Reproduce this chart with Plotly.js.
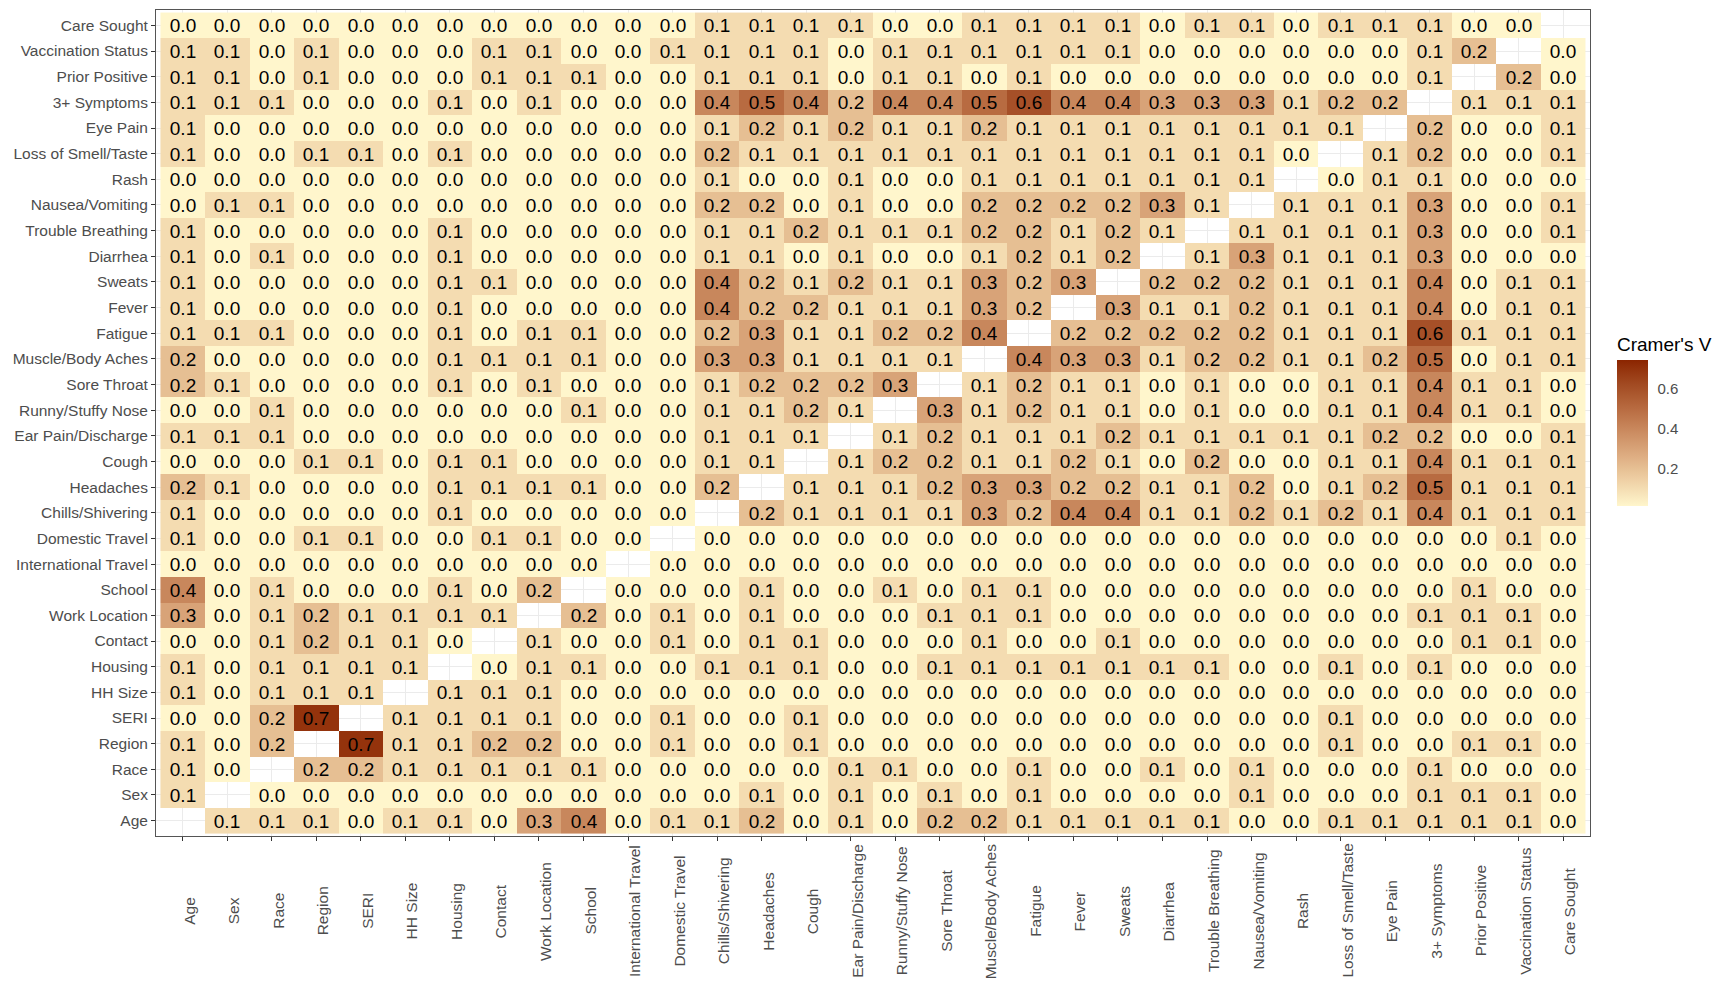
<!DOCTYPE html>
<html>
<head>
<meta charset="utf-8">
<script src="https://cdn.plot.ly/plotly-3.0.1.min.js"></script>
<style>
  html, body { margin: 0; padding: 0; background: #ffffff; }
  #chart { width: 1714px; height: 981px; }
</style>
</head>
<body>
<div id="chart"></div>
<script>
// Variable names (x order left->right; y order bottom->top)
const variables = ["Age", "Sex", "Race", "Region", "SERI", "HH Size", "Housing", "Contact",
  "Work Location", "School", "International Travel", "Domestic Travel", "Chills/Shivering",
  "Headaches", "Cough", "Ear Pain/Discharge", "Runny/Stuffy Nose", "Sore Throat",
  "Muscle/Body Aches", "Fatigue", "Fever", "Sweats", "Diarrhea", "Trouble Breathing",
  "Nausea/Vomiting", "Rash", "Loss of Smell/Taste", "Eye Pain", "3+ Symptoms",
  "Prior Positive", "Vaccination Status", "Care Sought"];

// Cramer's V per row (null = diagonal), columns in the order of `variables`
const rowAge         = [null,0.1,0.1,0.1,0.0,0.1,0.1,0.0,0.3,0.4,0.0,0.1,0.1,0.2,0.0,0.1,0.0,0.2,0.2,0.1,0.1,0.1,0.1,0.1,0.0,0.0,0.1,0.1,0.1,0.1,0.1,0.0];
const rowSex         = [0.1,null,0.0,0.0,0.0,0.0,0.0,0.0,0.0,0.0,0.0,0.0,0.0,0.1,0.0,0.1,0.0,0.1,0.0,0.1,0.0,0.0,0.0,0.0,0.1,0.0,0.0,0.0,0.1,0.1,0.1,0.0];
const rowRace        = [0.1,0.0,null,0.2,0.2,0.1,0.1,0.1,0.1,0.1,0.0,0.0,0.0,0.0,0.0,0.1,0.1,0.0,0.0,0.1,0.0,0.0,0.1,0.0,0.1,0.0,0.0,0.0,0.1,0.0,0.0,0.0];
const rowRegion      = [0.1,0.0,0.2,null,0.7,0.1,0.1,0.2,0.2,0.0,0.0,0.1,0.0,0.0,0.1,0.0,0.0,0.0,0.0,0.0,0.0,0.0,0.0,0.0,0.0,0.0,0.1,0.0,0.0,0.1,0.1,0.0];
const rowSERI        = [0.0,0.0,0.2,0.7,null,0.1,0.1,0.1,0.1,0.0,0.0,0.1,0.0,0.0,0.1,0.0,0.0,0.0,0.0,0.0,0.0,0.0,0.0,0.0,0.0,0.0,0.1,0.0,0.0,0.0,0.0,0.0];
const rowHHSize      = [0.1,0.0,0.1,0.1,0.1,null,0.1,0.1,0.1,0.0,0.0,0.0,0.0,0.0,0.0,0.0,0.0,0.0,0.0,0.0,0.0,0.0,0.0,0.0,0.0,0.0,0.0,0.0,0.0,0.0,0.0,0.0];
const rowHousing     = [0.1,0.0,0.1,0.1,0.1,0.1,null,0.0,0.1,0.1,0.0,0.0,0.1,0.1,0.1,0.0,0.0,0.1,0.1,0.1,0.1,0.1,0.1,0.1,0.0,0.0,0.1,0.0,0.1,0.0,0.0,0.0];
const rowContact     = [0.0,0.0,0.1,0.2,0.1,0.1,0.0,null,0.1,0.0,0.0,0.1,0.0,0.1,0.1,0.0,0.0,0.0,0.1,0.0,0.0,0.1,0.0,0.0,0.0,0.0,0.0,0.0,0.0,0.1,0.1,0.0];
const rowWork        = [0.3,0.0,0.1,0.2,0.1,0.1,0.1,0.1,null,0.2,0.0,0.1,0.0,0.1,0.0,0.0,0.0,0.1,0.1,0.1,0.0,0.0,0.0,0.0,0.0,0.0,0.0,0.0,0.1,0.1,0.1,0.0];
const rowSchool      = [0.4,0.0,0.1,0.0,0.0,0.0,0.1,0.0,0.2,null,0.0,0.0,0.0,0.1,0.0,0.0,0.1,0.0,0.1,0.1,0.0,0.0,0.0,0.0,0.0,0.0,0.0,0.0,0.0,0.1,0.0,0.0];
const rowIntlTravel  = [0.0,0.0,0.0,0.0,0.0,0.0,0.0,0.0,0.0,0.0,null,0.0,0.0,0.0,0.0,0.0,0.0,0.0,0.0,0.0,0.0,0.0,0.0,0.0,0.0,0.0,0.0,0.0,0.0,0.0,0.0,0.0];
const rowDomTravel   = [0.1,0.0,0.0,0.1,0.1,0.0,0.0,0.1,0.1,0.0,0.0,null,0.0,0.0,0.0,0.0,0.0,0.0,0.0,0.0,0.0,0.0,0.0,0.0,0.0,0.0,0.0,0.0,0.0,0.0,0.1,0.0];
const rowChills      = [0.1,0.0,0.0,0.0,0.0,0.0,0.1,0.0,0.0,0.0,0.0,0.0,null,0.2,0.1,0.1,0.1,0.1,0.3,0.2,0.4,0.4,0.1,0.1,0.2,0.1,0.2,0.1,0.4,0.1,0.1,0.1];
const rowHeadaches   = [0.2,0.1,0.0,0.0,0.0,0.0,0.1,0.1,0.1,0.1,0.0,0.0,0.2,null,0.1,0.1,0.1,0.2,0.3,0.3,0.2,0.2,0.1,0.1,0.2,0.0,0.1,0.2,0.5,0.1,0.1,0.1];
const rowCough       = [0.0,0.0,0.0,0.1,0.1,0.0,0.1,0.1,0.0,0.0,0.0,0.0,0.1,0.1,null,0.1,0.2,0.2,0.1,0.1,0.2,0.1,0.0,0.2,0.0,0.0,0.1,0.1,0.4,0.1,0.1,0.1];
const rowEarPain     = [0.1,0.1,0.1,0.0,0.0,0.0,0.0,0.0,0.0,0.0,0.0,0.0,0.1,0.1,0.1,null,0.1,0.2,0.1,0.1,0.1,0.2,0.1,0.1,0.1,0.1,0.1,0.2,0.2,0.0,0.0,0.1];
const rowRunnyNose   = [0.0,0.0,0.1,0.0,0.0,0.0,0.0,0.0,0.0,0.1,0.0,0.0,0.1,0.1,0.2,0.1,null,0.3,0.1,0.2,0.1,0.1,0.0,0.1,0.0,0.0,0.1,0.1,0.4,0.1,0.1,0.0];
const rowSoreThroat  = [0.2,0.1,0.0,0.0,0.0,0.0,0.1,0.0,0.1,0.0,0.0,0.0,0.1,0.2,0.2,0.2,0.3,null,0.1,0.2,0.1,0.1,0.0,0.1,0.0,0.0,0.1,0.1,0.4,0.1,0.1,0.0];
const rowMuscle      = [0.2,0.0,0.0,0.0,0.0,0.0,0.1,0.1,0.1,0.1,0.0,0.0,0.3,0.3,0.1,0.1,0.1,0.1,null,0.4,0.3,0.3,0.1,0.2,0.2,0.1,0.1,0.2,0.5,0.0,0.1,0.1];
const rowFatigue     = [0.1,0.1,0.1,0.0,0.0,0.0,0.1,0.0,0.1,0.1,0.0,0.0,0.2,0.3,0.1,0.1,0.2,0.2,0.4,null,0.2,0.2,0.2,0.2,0.2,0.1,0.1,0.1,0.6,0.1,0.1,0.1];
const rowFever       = [0.1,0.0,0.0,0.0,0.0,0.0,0.1,0.0,0.0,0.0,0.0,0.0,0.4,0.2,0.2,0.1,0.1,0.1,0.3,0.2,null,0.3,0.1,0.1,0.2,0.1,0.1,0.1,0.4,0.0,0.1,0.1];
const rowSweats      = [0.1,0.0,0.0,0.0,0.0,0.0,0.1,0.1,0.0,0.0,0.0,0.0,0.4,0.2,0.1,0.2,0.1,0.1,0.3,0.2,0.3,null,0.2,0.2,0.2,0.1,0.1,0.1,0.4,0.0,0.1,0.1];
const rowDiarrhea    = [0.1,0.0,0.1,0.0,0.0,0.0,0.1,0.0,0.0,0.0,0.0,0.0,0.1,0.1,0.0,0.1,0.0,0.0,0.1,0.2,0.1,0.2,null,0.1,0.3,0.1,0.1,0.1,0.3,0.0,0.0,0.0];
const rowBreathing   = [0.1,0.0,0.0,0.0,0.0,0.0,0.1,0.0,0.0,0.0,0.0,0.0,0.1,0.1,0.2,0.1,0.1,0.1,0.2,0.2,0.1,0.2,0.1,null,0.1,0.1,0.1,0.1,0.3,0.0,0.0,0.1];
const rowNausea      = [0.0,0.1,0.1,0.0,0.0,0.0,0.0,0.0,0.0,0.0,0.0,0.0,0.2,0.2,0.0,0.1,0.0,0.0,0.2,0.2,0.2,0.2,0.3,0.1,null,0.1,0.1,0.1,0.3,0.0,0.0,0.1];
const rowRash        = [0.0,0.0,0.0,0.0,0.0,0.0,0.0,0.0,0.0,0.0,0.0,0.0,0.1,0.0,0.0,0.1,0.0,0.0,0.1,0.1,0.1,0.1,0.1,0.1,0.1,null,0.0,0.1,0.1,0.0,0.0,0.0];
const rowSmellTaste  = [0.1,0.0,0.0,0.1,0.1,0.0,0.1,0.0,0.0,0.0,0.0,0.0,0.2,0.1,0.1,0.1,0.1,0.1,0.1,0.1,0.1,0.1,0.1,0.1,0.1,0.0,null,0.1,0.2,0.0,0.0,0.1];
const rowEyePain     = [0.1,0.0,0.0,0.0,0.0,0.0,0.0,0.0,0.0,0.0,0.0,0.0,0.1,0.2,0.1,0.2,0.1,0.1,0.2,0.1,0.1,0.1,0.1,0.1,0.1,0.1,0.1,null,0.2,0.0,0.0,0.1];
const rowSymptoms3   = [0.1,0.1,0.1,0.0,0.0,0.0,0.1,0.0,0.1,0.0,0.0,0.0,0.4,0.5,0.4,0.2,0.4,0.4,0.5,0.6,0.4,0.4,0.3,0.3,0.3,0.1,0.2,0.2,null,0.1,0.1,0.1];
const rowPriorPos    = [0.1,0.1,0.0,0.1,0.0,0.0,0.0,0.1,0.1,0.1,0.0,0.0,0.1,0.1,0.1,0.0,0.1,0.1,0.0,0.1,0.0,0.0,0.0,0.0,0.0,0.0,0.0,0.0,0.1,null,0.2,0.0];
const rowVaccination = [0.1,0.1,0.0,0.1,0.0,0.0,0.0,0.1,0.1,0.0,0.0,0.1,0.1,0.1,0.1,0.0,0.1,0.1,0.1,0.1,0.1,0.1,0.0,0.0,0.0,0.0,0.0,0.0,0.1,0.2,null,0.0];
const rowCareSought  = [0.0,0.0,0.0,0.0,0.0,0.0,0.0,0.0,0.0,0.0,0.0,0.0,0.1,0.1,0.1,0.1,0.0,0.0,0.1,0.1,0.1,0.1,0.0,0.1,0.1,0.0,0.1,0.1,0.1,0.0,0.0,null];

const legendTicks = [0.2, 0.4, 0.6];

const zRows = [rowAge, rowSex, rowRace, rowRegion, rowSERI, rowHHSize, rowHousing, rowContact,
  rowWork, rowSchool, rowIntlTravel, rowDomTravel, rowChills, rowHeadaches, rowCough, rowEarPain,
  rowRunnyNose, rowSoreThroat, rowMuscle, rowFatigue, rowFever, rowSweats, rowDiarrhea,
  rowBreathing, rowNausea, rowRash, rowSmellTaste, rowEyePain, rowSymptoms3, rowPriorPos,
  rowVaccination, rowCareSought];

const cellText = zRows.map(r => r.map(v => v === null ? '' : v.toFixed(1)));

// Lab-space gradient (ggplot-like) from low to high
function hexToRgb(h){ return [parseInt(h.slice(1,3),16), parseInt(h.slice(3,5),16), parseInt(h.slice(5,7),16)]; }
function srgbToLin(c){ c/=255; return c<=0.04045? c/12.92 : Math.pow((c+0.055)/1.055,2.4); }
function linToSrgb(c){ c = c<=0.0031308? 12.92*c : 1.055*Math.pow(c,1/2.4)-0.055; return Math.round(Math.max(0,Math.min(1,c))*255); }
function rgbToLab(rgb){
  const [r,g,b] = rgb.map(srgbToLin);
  let X = (0.4124*r+0.3576*g+0.1805*b)/0.95047, Y = (0.2126*r+0.7152*g+0.0722*b), Z = (0.0193*r+0.1192*g+0.9505*b)/1.08883;
  const f = t => t>0.008856? Math.cbrt(t) : 7.787*t+16/116;
  const fx=f(X), fy=f(Y), fz=f(Z);
  return [116*fy-16, 500*(fx-fy), 200*(fy-fz)];
}
function labToRgb(lab){
  const fy=(lab[0]+16)/116, fx=fy+lab[1]/500, fz=fy-lab[2]/200;
  const fi = t => t>0.206893? t*t*t : (t-16/116)/7.787;
  const X=fi(fx)*0.95047, Y=fi(fy), Z=fi(fz)*1.08883;
  const r= 3.2406*X-1.5372*Y-0.4986*Z, g=-0.9689*X+1.8758*Y+0.0415*Z, b=0.0557*X-0.2040*Y+1.0570*Z;
  return [linToSrgb(r), linToSrgb(g), linToSrgb(b)];
}
const lowLab = rgbToLab(hexToRgb('#FFF6CC')), highLab = rgbToLab(hexToRgb('#8B2500'));
const colorscale = [];
for (let i=0;i<=12;i++){
  const t=i/12;
  const lab=[0,1,2].map(k=>lowLab[k]+(highLab[k]-lowLab[k])*t);
  const c=labToRgb(lab);
  colorscale.push([t, 'rgb('+c.join(',')+')']);
}

const FONT = '"Liberation Sans", Arial, sans-serif';

const trace = {
  type: 'heatmap',
  x: variables,
  y: variables,
  z: zRows,
  text: cellText,
  texttemplate: '%{text}',
  textfont: {family: FONT, size: 19, color: '#000000'},
  zmin: 0.01,
  zmax: 0.745,
  colorscale: colorscale,
  hoverongaps: false,
  xgap: 0, ygap: 0,
  colorbar: {
    title: {text: "Cramer's V", side: 'top', font: {family: FONT, size: 19, color: '#000000'}},
    x: 1.0188, xanchor: 'left', xpad: 0,
    y: 0.5036, yanchor: 'middle', ypad: 0,
    thickness: 31,
    len: 172, lenmode: 'pixels',
    outlinewidth: 0,
    tickvals: legendTicks,
    ticktext: legendTicks.map(v => v.toFixed(1)),
    ticks: 'outside', ticklen: 7, tickcolor: 'rgba(0,0,0,0)', tickwidth: 1,
    tickfont: {family: FONT, size: 15, color: '#4D4D4D'}
  }
};

const xLabelAnnotations = variables.map(v => ({
  x: v, xref: 'x', y: -0.0908, yref: 'paper',
  text: v, showarrow: false, textangle: -90,
  xanchor: 'center', yanchor: 'middle', xshift: 6,
  font: {family: FONT, size: 15.5, color: '#4D4D4D'}
}));

const layout = {
  width: 1714, height: 981,
  margin: {l: 156, r: 124, t: 10, b: 145, pad: 0, autoexpand: false},
  paper_bgcolor: '#ffffff',
  plot_bgcolor: '#ffffff',
  font: {family: FONT, color: '#4D4D4D'},
  xaxis: {
    type: 'category',
    range: [-0.6, variables.length - 0.4],
    showticklabels: false,
    ticks: 'outside', ticklen: 4, tickcolor: '#333333', tickwidth: 1,
    showgrid: true, gridcolor: '#EBEBEB', gridwidth: 1,
    showline: true, mirror: true, linecolor: '#555555', linewidth: 1,
    zeroline: false, fixedrange: true
  },
  yaxis: {
    type: 'category',
    range: [-0.6, variables.length - 0.4],
    tickfont: {family: FONT, size: 15.5, color: '#4D4D4D'},
    ticks: 'outside', ticklen: 4, tickcolor: '#333333', tickwidth: 1,
    showgrid: true, gridcolor: '#EBEBEB', gridwidth: 1,
    showline: true, mirror: true, linecolor: '#555555', linewidth: 1,
    zeroline: false, fixedrange: true
  },
  annotations: xLabelAnnotations
};

Plotly.newPlot('chart', [trace], layout, {displayModeBar: false, staticPlot: true});
</script>
</body>
</html>
